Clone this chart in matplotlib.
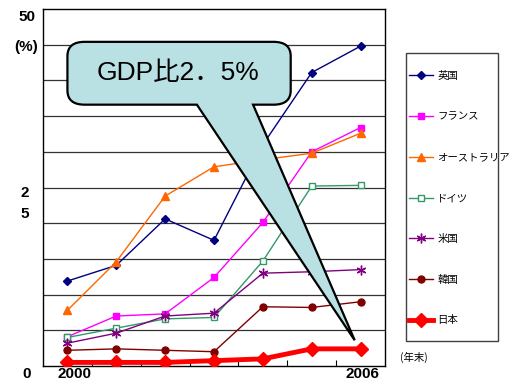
import matplotlib.pyplot as plt
from matplotlib.path import Path
from matplotlib.patches import PathPatch, Rectangle

plt.rcParams['font.family'] = ['Liberation Sans', 'Noto Sans CJK JP', 'DejaVu Sans']

# data (GDP ratio, %, end of year)
years = [2000, 2001, 2002, 2003, 2004, 2005, 2006]
uk = [11.9, 14.1, 20.6, 17.6, 31.0, 41.1, 44.8]
france = [4.1, 7.0, 7.3, 12.4, 20.1, 30.0, 33.4]
australia = [7.8, 14.6, 23.8, 27.9, 28.9, 29.8, 32.6]
germany = [4.0, 5.3, 6.6, 6.8, 14.7, 25.2, 25.3]
usa = [3.2, 4.6, 7.0, 7.4, 13.0, 13.2, 13.5]
korea = [2.2, 2.4, 2.2, 2.0, 8.3, 8.2, 9.0]
japan = [0.5, 0.5, 0.5, 0.75, 1.0, 2.4, 2.4]

series = [
    ("英国", uk, dict(color="#000080", marker="D", ms=4, lw=1.0)),
    ("フランス", france, dict(color="#FF00FF", marker="s", ms=5, lw=1.0)),
    ("オーストラリア", australia, dict(color="#FF6600", marker="^", ms=6, lw=1.0)),
    ("ドイツ", germany, dict(color="#339966", marker="s", ms=5, lw=1.0, mfc="white")),
    ("米国", usa, dict(color="#800080", marker=(6, 2, 0), ms=7, lw=1.0)),
    ("韓国", korea, dict(color="#800000", marker="o", ms=5, lw=1.0)),
    ("日本", japan, dict(color="#FF0000", marker="D", ms=7, lw=3.5)),
]

fig = plt.figure(figsize=(5.11, 3.82), dpi=100)
ax = fig.add_axes([43 / 511, 16 / 382, 342 / 511, 357 / 382])

x = list(range(len(years)))
for name, vals, st in series:
    ax.plot(x, vals, label=name, zorder=3, **st)

ax.set_xlim(-0.5, 6.5)
ax.set_ylim(0, 50)
for y in range(5, 50, 5):
    ax.axhline(y, color="#333333", lw=0.9, zorder=1)

ax.set_xticks([i + 0.5 for i in range(6)])
ax.set_xticklabels([])
ax.tick_params(axis="x", direction="in", length=4, width=0.8)
ax.set_yticks([])
for s in ax.spines.values():
    s.set_linewidth(1.0)

# axis labels as in the original
lab = dict(fontsize=11, fontweight="bold", ha="center")
fig.text(27 / 511, 1 - 10 / 382, "50", va="top", **lab)
fig.text(26 / 511, 1 - 40 / 382, "(%)", va="top", **lab)
fig.text(25 / 511, 1 - 186 / 382, "2\n5", linespacing=1.6, va="top", **lab)
fig.text(27 / 511, 1.5 / 382, "0", va="bottom", **lab)
fig.text(74 / 511, 1.5 / 382, str(years[0]), va="bottom", **lab)
fig.text(362 / 511, 1.5 / 382, str(years[-1]), va="bottom", **lab)

# callout balloon
L, R, T, B = 0.0, 4.57, 45.4, 36.6
rx, ry = 0.35, 2.0
verts = [
    (L + rx, T), (R - rx, T), (R, T), (R, T - ry), (R, B + ry), (R, B), (R - rx, B),
    (3.8, B), (5.88, 3.6), (2.65, B), (L + rx, B), (L, B), (L, B + ry),
    (L, T - ry), (L, T), (L + rx, T), (L + rx, T),
]
codes = [
    Path.MOVETO, Path.LINETO, Path.CURVE3, Path.CURVE3, Path.LINETO, Path.CURVE3, Path.CURVE3,
    Path.LINETO, Path.LINETO, Path.LINETO, Path.LINETO, Path.CURVE3, Path.CURVE3,
    Path.LINETO, Path.CURVE3, Path.CURVE3, Path.CLOSEPOLY,
]
ax.add_patch(PathPatch(Path(verts, codes), facecolor="#B9E0E3", edgecolor="black",
                       lw=1.6, zorder=5, joinstyle="miter"))
ax.text(2.27, 41.1, "GDP比2．5%", fontsize=19, ha="center", va="center", zorder=6,
        family=["Liberation Sans", "Noto Sans CJK JP", "DejaVu Sans"])

# legend
leg = fig.legend(loc="upper left", bbox_to_anchor=(409 / 511, 1 - 71 / 382), frameon=False,
                 prop=dict(family=["Noto Sans CJK JP", "DejaVu Sans"], size=7.5),
                 handlelength=2.3, handletextpad=0.4, labelspacing=2.95,
                 borderpad=0, borderaxespad=0)
fig.patches.append(Rectangle((406 / 511, 1 - 341 / 382), 92 / 511, 288 / 382,
                             transform=fig.transFigure, fill=False, ec="#404040", lw=1.0))
fig.text(414 / 511, 1 - 357 / 382, "(年末)", fontsize=7.5, ha="center", va="center",
         family=["Noto Sans CJK JP", "DejaVu Sans"])

fig.savefig("out.png", dpi=100)
